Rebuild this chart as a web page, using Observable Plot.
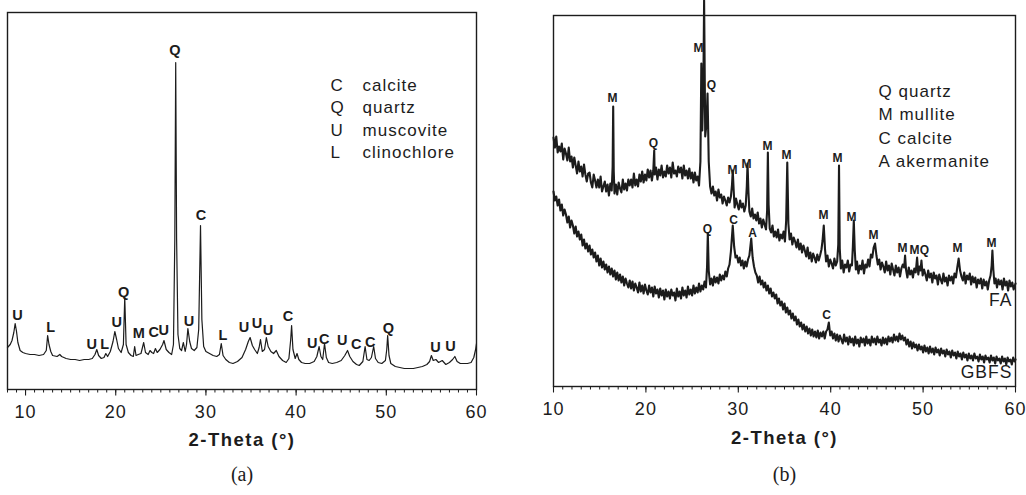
<!DOCTYPE html>
<html><head><meta charset="utf-8">
<script src="https://cdn.jsdelivr.net/npm/d3@7"></script>
<script src="https://cdn.jsdelivr.net/npm/@observablehq/plot@0.6"></script>
<style>
body{margin:0;background:#fff;}
#wrap{position:relative;width:1026px;height:495px;overflow:hidden;}
#pa{position:absolute;left:0;top:0;}
#pb{position:absolute;left:500px;top:0;}
</style></head><body>
<div id="wrap"><div id="pa"></div><div id="pb"></div></div>
<script>
// ---------- DATA ----------
// Panel (a): clay XRD pattern [2θ (°), intensity (a.u.)]
const patternA = [[8.0,42],[8.3,45],[8.5,49],[8.7,57],[8.85,66],[9.0,58],[9.15,47],[9.4,39],[9.7,37],[10,36],[10.5,35],[11,35],[11.5,34],[12,35],[12.3,39],[12.45,54],[12.6,45],[12.8,38],[13,34],[13.5,33],[13.8,35],[14.0,33],[14.5,31],[15,30],[15.5,30],[16,29],[16.5,30],[17,30],[17.4,31],[17.7,35],[17.9,40],[18.1,34],[18.4,31],[18.7,32],[18.9,36],[19.1,33],[19.4,38],[19.7,48],[19.9,58],[20.1,50],[20.3,41],[20.6,37],[20.85,45],[21.0,92],[21.15,45],[21.4,37],[21.7,34],[21.95,33],[22.1,43],[22.25,34],[22.5,35],[22.8,36],[23.1,47],[23.3,37],[23.6,35],[23.8,39],[24.0,37],[24.2,36],[24.4,41],[24.6,37],[24.9,40],[25.2,45],[25.35,49],[25.6,40],[25.9,37],[26.2,35],[26.4,45],[26.55,150],[26.65,327],[26.75,150],[26.9,55],[27.1,41],[27.3,39],[27.5,47],[27.7,38],[27.85,45],[28.0,61],[28.2,48],[28.4,41],[28.7,39],[29.0,42],[29.2,60],[29.4,164],[29.55,70],[29.75,43],[30.0,38],[30.4,36],[30.8,34],[31.2,33],[31.5,35],[31.7,46],[31.9,34],[32.2,30],[32.6,27],[33.0,26],[33.5,28],[34.0,32],[34.4,40],[34.7,48],[34.9,52],[35.15,44],[35.4,40],[35.7,36],[35.9,42],[36.05,50],[36.25,38],[36.5,40],[36.7,52],[36.9,43],[37.2,38],[37.5,36],[37.8,39],[38.1,33],[38.5,29],[38.9,27],[39.2,31],[39.4,50],[39.5,64],[39.65,40],[39.9,31],[40.1,36],[40.3,30],[40.6,27],[41.0,26],[41.5,26],[42.0,28],[42.3,33],[42.55,43],[42.75,33],[42.95,30],[43.15,46],[43.35,32],[43.6,27],[44.0,26],[44.5,27],[45.0,29],[45.4,34],[45.7,39],[45.95,33],[46.3,28],[46.7,25],[47.0,24],[47.4,28],[47.65,43],[47.85,30],[48.1,29],[48.35,32],[48.6,43],[48.8,31],[49.1,27],[49.5,26],[49.9,29],[50.05,40],[50.15,54],[50.3,34],[50.5,26],[51.0,23],[51.5,22],[52.0,21],[52.5,21],[53.0,21],[53.5,22],[54.0,23],[54.5,25],[54.8,28],[55.0,34],[55.2,29],[55.5,30],[55.8,27],[56.2,29],[56.6,25],[57.0,27],[57.35,30],[57.6,33],[57.85,28],[58.2,26],[58.6,26],[59.0,26],[59.4,27],[59.7,32],[59.9,40],[60.0,46]];

const peakLabelsA = ["U","L","U","L","U","Q","M","C","U","Q","U","C","L","U","U","U","C","U","C","U","C","C","Q","U","U"];
const peakPosA    = [9.11,12.78,17.33,18.78,20.11,20.89,22.56,24.22,25.33,26.56,28.11,29.44,31.89,34.22,35.67,36.89,39.11,41.78,43.11,45.11,46.67,48.22,50.22,55.44,57.11];
const peakHtA     = [74,62,45,45,67,97,56,57,59,339,68,174,54,62,66,59,73,46,50,49,45,47,61,42,43];

const legendCodesA = ["C","Q","U","L"];
const legendNamesA = ["calcite","quartz","muscovite","clinochlore"];

// Panel (b): FA and GBFS XRD patterns [2θ (°), intensity (a.u.)]
const patternFA = [[10.00,249],[10.15,239],[10.30,250],[10.45,234],[10.60,240],[10.75,235],[10.90,243],[11.05,227],[11.20,238],[11.35,233],[11.50,226],[11.65,239],[11.80,225],[11.95,230],[12.10,219],[12.25,229],[12.40,221],[12.55,213],[12.70,225],[12.85,215],[13.00,220],[13.15,210],[13.30,222],[13.45,212],[13.60,205],[13.75,213],[13.90,214],[14.05,204],[14.20,199],[14.35,212],[14.50,206],[14.65,199],[14.80,207],[14.95,199],[15.10,210],[15.25,195],[15.40,200],[15.55,205],[15.70,195],[15.85,202],[16.00,191],[16.15,203],[16.30,196],[16.40,220],[16.46,280],[16.52,215],[16.60,193],[16.75,202],[16.90,192],[17.05,204],[17.20,198],[17.35,194],[17.50,207],[17.65,197],[17.80,203],[17.95,196],[18.10,207],[18.25,201],[18.40,207],[18.55,199],[18.70,213],[18.85,201],[19.00,207],[19.15,200],[19.30,212],[19.45,205],[19.60,215],[19.75,204],[19.90,212],[20.05,206],[20.20,217],[20.35,209],[20.50,216],[20.65,206],[20.80,216],[20.90,236],[20.95,212],[21.10,219],[21.25,207],[21.40,217],[21.55,211],[21.70,221],[21.85,209],[22.00,215],[22.15,210],[22.30,221],[22.45,213],[22.60,219],[22.75,209],[22.90,224],[23.05,213],[23.20,216],[23.35,210],[23.50,220],[23.65,214],[23.80,219],[23.95,208],[24.10,221],[24.25,211],[24.40,216],[24.55,208],[24.70,218],[24.85,208],[25.00,214],[25.15,204],[25.30,214],[25.45,206],[25.60,210],[25.75,201],[25.90,225],[26.00,323],[26.10,256],[26.22,300],[26.30,386],[26.42,250],[26.55,262],[26.67,293],[26.80,225],[26.95,200],[27.10,193],[27.25,200],[27.40,191],[27.55,195],[27.70,186],[27.85,197],[28.00,189],[28.15,192],[28.30,183],[28.45,190],[28.60,186],[28.75,181],[28.90,189],[29.05,184],[29.20,190],[29.32,202],[29.40,216],[29.50,196],[29.60,179],[29.75,188],[29.90,182],[30.05,177],[30.20,186],[30.35,179],[30.50,183],[30.65,175],[30.80,181],[30.92,200],[31.00,223],[31.10,194],[31.20,175],[31.35,170],[31.50,178],[31.65,168],[31.80,172],[31.95,166],[32.10,174],[32.25,163],[32.40,168],[32.55,159],[32.70,167],[32.85,162],[33.00,157],[33.12,176],[33.20,234],[33.28,182],[33.40,158],[33.55,154],[33.70,161],[33.85,150],[34.00,155],[34.15,149],[34.30,157],[34.45,146],[34.60,152],[34.75,148],[34.90,155],[35.05,145],[35.18,166],[35.30,224],[35.42,163],[35.55,147],[35.70,153],[35.85,142],[36.00,149],[36.15,145],[36.30,139],[36.45,147],[36.60,137],[36.75,143],[36.90,134],[37.05,141],[37.20,136],[37.35,130],[37.50,139],[37.65,128],[37.80,134],[37.95,125],[38.10,133],[38.25,129],[38.40,124],[38.55,132],[38.70,126],[38.85,131],[39.00,137],[39.12,146],[39.25,161],[39.38,138],[39.50,125],[39.65,131],[39.80,120],[39.95,127],[40.10,123],[40.25,118],[40.40,128],[40.55,121],[40.70,125],[40.82,142],[40.90,221],[40.98,138],[41.10,118],[41.25,126],[41.40,114],[41.55,122],[41.70,119],[41.85,126],[42.00,115],[42.15,122],[42.30,121],[42.40,140],[42.50,166],[42.60,137],[42.72,117],[42.85,125],[43.00,113],[43.15,121],[43.30,117],[43.45,126],[43.60,113],[43.75,122],[43.90,119],[44.05,127],[44.20,120],[44.35,132],[44.50,129],[44.65,139],[44.80,143],[44.95,131],[45.10,122],[45.25,127],[45.40,117],[45.55,124],[45.70,120],[45.85,114],[46.00,125],[46.15,116],[46.30,121],[46.45,112],[46.60,123],[46.75,117],[46.90,111],[47.05,121],[47.20,114],[47.35,119],[47.50,110],[47.65,118],[47.80,122],[47.95,119],[48.05,131],[48.15,117],[48.30,109],[48.45,119],[48.60,112],[48.75,116],[48.90,109],[49.05,118],[49.20,114],[49.35,129],[49.48,112],[49.60,120],[49.72,116],[49.82,126],[49.95,111],[50.10,117],[50.25,112],[50.40,106],[50.55,116],[50.70,109],[50.85,113],[51.00,104],[51.15,114],[51.30,108],[51.45,111],[51.60,102],[51.75,112],[51.90,107],[52.05,103],[52.20,113],[52.35,105],[52.50,109],[52.65,101],[52.80,111],[52.95,106],[53.10,110],[53.25,103],[53.40,113],[53.55,109],[53.70,119],[53.85,128],[54.00,116],[54.15,110],[54.30,106],[54.45,114],[54.60,103],[54.75,111],[54.90,107],[55.05,113],[55.20,102],[55.35,110],[55.50,104],[55.65,109],[55.80,99],[55.95,107],[56.10,103],[56.25,108],[56.40,98],[56.55,107],[56.70,101],[56.85,105],[57.00,97],[57.15,106],[57.30,111],[57.42,121],[57.50,136],[57.60,117],[57.72,103],[57.85,108],[58.00,99],[58.15,107],[58.30,102],[58.45,106],[58.60,97],[58.75,108],[58.90,101],[59.05,105],[59.20,96],[59.35,106],[59.50,100],[59.65,104],[59.80,97],[60.00,103]];

const patternGBFS = [[10.00,195],[10.15,186],[10.30,190],[10.45,181],[10.60,187],[10.75,176],[10.90,182],[11.05,171],[11.20,177],[11.35,172],[11.50,164],[11.65,170],[11.80,159],[11.95,166],[12.10,161],[12.25,153],[12.40,160],[12.55,150],[12.70,155],[12.85,147],[13.00,152],[13.15,141],[13.30,147],[13.45,138],[13.60,143],[13.75,135],[13.90,141],[14.05,132],[14.20,137],[14.35,129],[14.50,134],[14.65,125],[14.80,131],[14.95,121],[15.10,128],[15.25,119],[15.40,125],[15.55,117],[15.70,122],[15.85,114],[16.00,120],[16.15,112],[16.30,118],[16.45,110],[16.60,116],[16.75,107],[16.90,114],[17.05,106],[17.20,112],[17.35,104],[17.50,110],[17.65,101],[17.80,108],[17.95,103],[18.10,99],[18.25,106],[18.40,98],[18.55,105],[18.70,96],[18.85,103],[19.00,99],[19.15,94],[19.30,104],[19.45,95],[19.60,101],[19.75,93],[19.90,102],[20.05,96],[20.20,92],[20.35,101],[20.50,94],[20.65,99],[20.80,90],[20.95,100],[21.10,93],[21.25,97],[21.40,89],[21.55,98],[21.70,91],[21.85,96],[22.00,87],[22.15,97],[22.30,90],[22.45,95],[22.60,88],[22.75,97],[22.90,91],[23.05,94],[23.20,86],[23.35,98],[23.50,90],[23.65,95],[23.80,88],[23.95,99],[24.10,91],[24.25,96],[24.40,89],[24.55,100],[24.70,92],[24.85,97],[25.00,91],[25.15,101],[25.30,93],[25.45,99],[25.60,94],[25.75,103],[25.90,95],[26.05,101],[26.20,97],[26.35,105],[26.50,99],[26.62,120],[26.70,153],[26.80,116],[26.95,102],[27.10,108],[27.25,101],[27.40,110],[27.55,104],[27.70,109],[27.85,103],[28.00,112],[28.15,106],[28.30,111],[28.45,107],[28.60,115],[28.75,110],[28.90,118],[29.05,122],[29.20,135],[29.40,161],[29.55,140],[29.70,129],[29.85,131],[30.00,124],[30.15,129],[30.30,121],[30.45,126],[30.60,118],[30.75,125],[30.90,120],[31.05,127],[31.20,131],[31.40,148],[31.55,129],[31.70,120],[31.85,114],[32.00,111],[32.15,104],[32.30,110],[32.45,102],[32.60,106],[32.75,99],[32.90,104],[33.05,96],[33.20,101],[33.35,93],[33.50,98],[33.65,90],[33.80,94],[33.95,88],[34.10,92],[34.25,83],[34.40,88],[34.55,81],[34.70,85],[34.85,77],[35.00,83],[35.15,74],[35.30,79],[35.45,72],[35.60,76],[35.75,68],[35.90,73],[36.05,66],[36.20,70],[36.35,62],[36.50,67],[36.65,60],[36.80,64],[36.95,57],[37.10,62],[37.25,55],[37.40,60],[37.55,53],[37.70,58],[37.85,51],[38.00,57],[38.15,50],[38.30,55],[38.45,49],[38.60,56],[38.75,48],[38.90,54],[39.05,50],[39.20,55],[39.35,48],[39.50,55],[39.65,57],[39.80,64],[39.95,51],[40.10,55],[40.25,48],[40.40,53],[40.55,46],[40.70,52],[40.85,45],[41.00,51],[41.15,47],[41.30,43],[41.45,52],[41.60,45],[41.75,49],[41.90,42],[42.05,50],[42.20,44],[42.35,48],[42.50,41],[42.65,50],[42.80,43],[42.95,47],[43.10,40],[43.25,49],[43.40,44],[43.55,48],[43.70,41],[43.85,50],[44.00,43],[44.15,47],[44.30,41],[44.45,50],[44.60,44],[44.75,48],[44.90,42],[45.05,50],[45.20,44],[45.35,47],[45.50,41],[45.65,49],[45.80,43],[45.95,48],[46.10,42],[46.25,50],[46.40,45],[46.55,49],[46.70,44],[46.85,52],[47.00,46],[47.15,50],[47.30,45],[47.45,53],[47.60,47],[47.75,51],[47.90,46],[48.05,49],[48.20,42],[48.35,47],[48.50,40],[48.65,45],[48.80,38],[48.95,44],[49.10,39],[49.25,42],[49.40,36],[49.55,42],[49.70,37],[49.85,40],[50.00,34],[50.15,41],[50.30,35],[50.45,39],[50.60,33],[50.75,40],[50.90,34],[51.05,38],[51.20,32],[51.35,39],[51.50,34],[51.65,37],[51.80,31],[51.95,38],[52.10,33],[52.25,36],[52.40,30],[52.55,37],[52.70,32],[52.85,35],[53.00,29],[53.15,36],[53.30,31],[53.45,34],[53.60,28],[53.75,35],[53.90,30],[54.05,33],[54.20,27],[54.35,34],[54.50,29],[54.65,32],[54.80,26],[54.95,33],[55.10,28],[55.25,31],[55.40,26],[55.55,33],[55.70,28],[55.85,30],[56.00,25],[56.15,32],[56.30,27],[56.45,30],[56.60,24],[56.75,31],[56.90,27],[57.05,29],[57.20,24],[57.35,31],[57.50,26],[57.65,29],[57.80,23],[57.95,30],[58.10,26],[58.25,28],[58.40,23],[58.55,30],[58.70,25],[58.85,28],[59.00,22],[59.15,29],[59.30,25],[59.45,27],[59.60,22],[59.75,29],[59.90,25],[60.00,27]];

const peakLabelsFA = ["M","Q","M","Q","M","M","M","M","M","M","M","M","M","M","Q","M","M"];
const peakPosFA    = [16.39,20.82,25.69,27.1,29.37,30.89,33.16,35.22,40.74,39.22,42.25,44.63,47.77,49.07,50.15,53.72,57.40];
const peakHtFA     = [288,243,338,301,216,222,240,231,228,171,169,151,138,136,136,138,143];

const peakLabelsGBFS = ["Q","C","A","C"];
const peakPosGBFS    = [26.67,29.48,31.54,39.55];
const peakHtGBFS     = [157,166,153,71];

const legendB = ["Q quartz","M mullite","C calcite","A akermanite"];
const seriesNames = ["FA","GBFS"];

const majorTicks = [10,20,30,40,50,60];
const axisTitle = "2-Theta (°)";
const panelTags = ["(a)","(b)"];

// ---------- BUILD ----------
const rows = pairs => pairs.map(([t, i]) => ({t, i}));
const labels = (txt, pos, ht) => txt.map((s, k) => ({s, t: pos[k], i: ht[k]}));
const ink = "#1c1c1c";
const sans = "Liberation Sans, Arial, Helvetica, sans-serif";

function axes(minor) {
  return [
    Plot.axisX({ticks: minor, tickSize: 3.5, tickFormat: () => "", label: null, stroke: ink, strokeWidth: 1}),
    Plot.axisX({ticks: majorTicks, tickSize: 6.5, tickPadding: 9, fontSize: 18, label: null, stroke: ink, fill: ink, strokeWidth: 1.1})
  ];
}

const plotA = Plot.plot({
  width: 490, height: 495,
  marginLeft: 7, marginRight: 14, marginTop: 12, marginBottom: 106,
  x: {domain: [8, 60], label: null},
  y: {domain: [0, 377], axis: null},
  style: {fontFamily: sans, background: "transparent", overflow: "visible", color: ink},
  marks: [
    Plot.frame({stroke: ink, strokeWidth: 1.4}),
    Plot.line(rows(patternA), {x: "t", y: "i", stroke: ink, strokeWidth: 1.2}),
    Plot.text(labels(peakLabelsA, peakPosA, peakHtA), {x: "t", y: "i", text: "s", fontWeight: "bold", fontSize: 14.5, fill: ink}),
    Plot.text([legendCodesA.join("\n")], {frameAnchor: "top-left", dx: 323, dy: 62, textAnchor: "start", lineHeight: 1.33, fontSize: 17, fill: ink}),
    Plot.text([legendNamesA.join("\n")], {frameAnchor: "top-left", dx: 355, dy: 62, textAnchor: "start", lineHeight: 1.33, fontSize: 17, fill: ink}),
    ...axes(d3.range(8, 61, 1)),
    Plot.text([axisTitle], {frameAnchor: "bottom", dy: 56, fontWeight: "bold", fontSize: 18.5, fill: ink}),
    Plot.text([panelTags[0]], {frameAnchor: "bottom", dy: 91, fontFamily: "Liberation Serif, Times New Roman, serif", fontSize: 20, fill: ink})
  ]
});

const plotB = Plot.plot({
  width: 526, height: 495,
  marginLeft: 53, marginRight: 11, marginTop: 15, marginBottom: 109,
  x: {domain: [10, 60], label: null},
  y: {domain: [0, 371], axis: null},
  style: {fontFamily: sans, background: "transparent", overflow: "visible", color: ink},
  marks: [
    Plot.frame({stroke: ink, strokeWidth: 1.4}),
    Plot.line(rows(patternFA), {x: "t", y: "i", stroke: ink, strokeWidth: 2.1}),
    Plot.line(rows(patternGBFS), {x: "t", y: "i", stroke: ink, strokeWidth: 2.1}),
    Plot.text(labels(peakLabelsFA, peakPosFA, peakHtFA), {x: "t", y: "i", text: "s", fontWeight: "bold", fontSize: 12, fill: ink}),
    Plot.text(labels(peakLabelsGBFS, peakPosGBFS, peakHtGBFS), {x: "t", y: "i", text: "s", fontWeight: "bold", fontSize: 12, fill: ink}),
    Plot.text([legendB.join("\n")], {frameAnchor: "top-left", dx: 325, dy: 65, textAnchor: "start", lineHeight: 1.37, fontSize: 17, fill: ink}),
    Plot.text([seriesNames[0]], {frameAnchor: "right", dx: -3, dy: 99.5, textAnchor: "end", fontSize: 17.5, fill: ink}),
    Plot.text([seriesNames[1]], {frameAnchor: "right", dx: -3, dy: 171, textAnchor: "end", fontSize: 17.5, fill: ink}),
    ...axes(d3.range(10, 61, 1)),
    Plot.text([axisTitle], {frameAnchor: "bottom", dy: 57, fontWeight: "bold", fontSize: 18.5, fill: ink}),
    Plot.text([panelTags[1]], {frameAnchor: "bottom", dy: 94, fontFamily: "Liberation Serif, Times New Roman, serif", fontSize: 20, fill: ink})
  ]
});

document.getElementById("pa").appendChild(plotA);
document.getElementById("pb").appendChild(plotB);
// widen sans text slightly to match the original typeface metrics
for (const svg of document.querySelectorAll("#wrap svg")) {
  for (const t of svg.querySelectorAll("text")) {
    const g = t.closest("g");
    const fw = (g && g.getAttribute("font-weight")) || t.getAttribute("font-weight");
    const ff = (g && g.getAttribute("font-family")) || "";
    if (fw !== "bold" && !/Serif/.test(ff)) t.style.letterSpacing = "0.06em";
    else if (fw === "bold" && t.textContent.length > 2) t.style.letterSpacing = "0.08em";
  }
}
</script>
</body></html>
